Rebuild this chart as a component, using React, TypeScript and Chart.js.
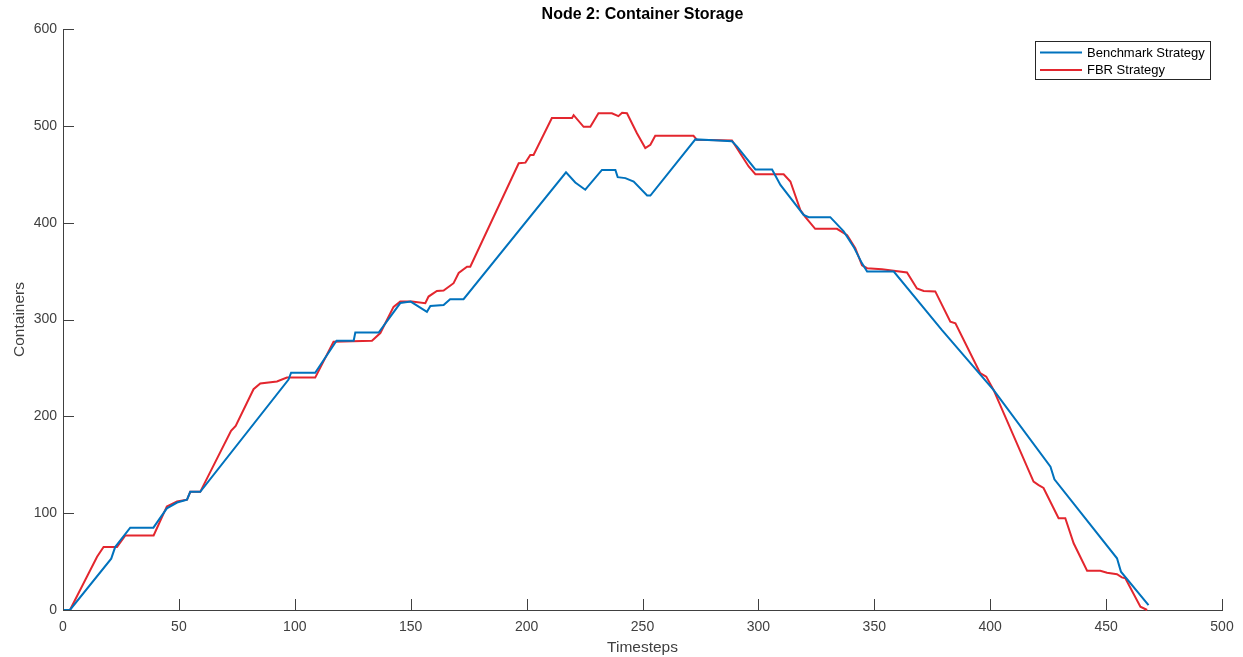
import React, { useEffect, useRef } from "react";
import { Chart, registerables } from "chart.js";

Chart.register(...registerables);

const TITLE = "Node 2: Container Storage";
const X_LABEL = "Timesteps";
const Y_LABEL = "Containers";

const benchmarkLabel = "Benchmark Strategy";
const fbrLabel = "FBR Strategy";

const benchmarkX = [0, 3, 20.8, 22.5, 29, 39, 44.8, 49.2, 53.5, 54.9, 59.2, 97.3, 98.4, 108.8, 118, 125.4, 126.1, 136.2, 145.5, 150, 157, 158.5, 164.2, 167, 172.8, 217, 221, 225.3, 232.5, 238.3, 239.3, 242.6, 246.2, 252, 253.4, 272.8, 280.7, 288.6, 290.8, 298.7, 305.9, 309.5, 319.5, 321.7, 331, 336.8, 341.1, 344.7, 346.9, 358.4, 379.2, 401.5, 426, 427.7, 454.7, 456.4, 468.3];
const benchmarkY = [0, 0, 53, 65, 85, 85, 105, 111, 114, 122, 122, 238, 245, 245, 278, 278, 286.5, 286.5, 317, 318.5, 308, 314, 315, 321, 321, 452, 441.5, 434, 454.5, 454.5, 447, 446, 442.5, 428, 428, 486, 485, 484, 478.6, 455, 455, 439, 408, 405.7, 405.7, 391, 375, 358, 349.5, 349.5, 289, 227, 148, 135, 53.4, 39.6, 5];

const fbrX = [0, 3, 14.7, 17.5, 23.3, 26.9, 39.1, 44.8, 49.2, 53.5, 54.9, 59.2, 72.5, 74.5, 82.2, 85.1, 92.3, 96.6, 108.8, 116.7, 133.3, 136.9, 142.6, 145.5, 150.5, 156.3, 157.7, 161.3, 164.2, 168.5, 170.7, 174.3, 175.7, 196.6, 199.5, 201.6, 203, 210.9, 219.6, 220.3, 224.6, 227.5, 231, 236.8, 239.6, 241.2, 243.3, 247.6, 251.2, 253.4, 255.5, 272, 273.5, 288.6, 295.8, 298.7, 310.9, 313.8, 318.1, 320.2, 324.5, 333.9, 338.3, 341.8, 344.7, 346.9, 353.3, 364.1, 368.4, 371.3, 376.3, 382.8, 385, 395.7, 398.3, 401.5, 418.7, 420.9, 423, 429.5, 432.4, 436, 441.8, 447.5, 450.4, 454.7, 456.8, 458.3, 464.8, 467.7];
const fbrY = [0, 0, 55, 65, 65, 77, 77, 107, 112, 114, 122, 122, 185, 190, 228, 234, 236, 240, 240, 277, 278, 286, 313, 318.5, 318.5, 316.8, 323.7, 329.5, 330, 337.5, 348, 354.6, 354.6, 461.4, 462, 470, 470, 508, 508, 511, 499, 499, 513, 513, 510, 513.5, 513, 492.4, 477, 480.5, 489.7, 489.7, 485.5, 484.8, 458, 450, 450, 442.5, 413, 406, 393.6, 393.6, 387, 373.6, 356, 353, 352, 348.5, 332, 329.5, 329, 297.8, 296, 244.5, 241, 227, 132.5, 129, 126, 94.7, 94.7, 68.9, 40.6, 40.6, 38.5, 37, 33.7, 32.7, 3.4, 0];

const xTicks = [0, 50, 100, 150, 200, 250, 300, 350, 400, 450, 500];
const yTicks = [0, 100, 200, 300, 400, 500, 600];

const BLUE = "#0072BD";
const RED = "#E3262E";
const AXIS = "#404040";
const FONT = "'Liberation Sans', Arial, Helvetica, sans-serif";

const toPoints = (xs: number[], ys: number[]) => xs.map((x, i) => ({ x, y: ys[i] }));

const inwardTicks = {
  id: "inwardTicks",
  afterDatasetsDraw(chart: any) {
    const { ctx, chartArea, scales } = chart;
    const len = 11;
    ctx.save();
    ctx.strokeStyle = AXIS;
    ctx.lineWidth = 1;
    ctx.beginPath();
    for (const v of xTicks) {
      const px = Math.round(scales.x.getPixelForValue(v)) + 0.5;
      ctx.moveTo(px, chartArea.bottom);
      ctx.lineTo(px, chartArea.bottom - len);
    }
    for (const v of yTicks) {
      const py = Math.round(scales.y.getPixelForValue(v)) + 0.5;
      ctx.moveTo(chartArea.left, py);
      ctx.lineTo(chartArea.left + len, py);
    }
    ctx.stroke();
    ctx.restore();
  },
};

const boxLegend = {
  id: "boxLegend",
  afterDraw(chart: any) {
    const { ctx } = chart;
    const x0 = 1035.5, y0 = 41.5, w = 175, h = 38;
    ctx.save();
    ctx.fillStyle = "#ffffff";
    ctx.fillRect(x0, y0, w, h);
    ctx.strokeStyle = "#262626";
    ctx.lineWidth = 1;
    ctx.strokeRect(x0, y0, w, h);
    ctx.font = `13px ${FONT}`;
    ctx.textBaseline = "middle";
    ctx.textAlign = "left";
    const rows = [52.5, 70];
    chart.data.datasets.forEach((ds: any, i: number) => {
      const y = rows[i];
      ctx.strokeStyle = ds.borderColor;
      ctx.lineWidth = ds.borderWidth;
      ctx.beginPath();
      ctx.moveTo(1040, y);
      ctx.lineTo(1082, y);
      ctx.stroke();
      ctx.fillStyle = "#000000";
      ctx.fillText(ds.label, 1087, y + 0.5);
    });
    ctx.restore();
  },
};

export default function App() {
  const ref = useRef<HTMLCanvasElement | null>(null);

  useEffect(() => {
    if (!ref.current) return;
    const chart = new Chart(ref.current, {
      type: "line",
      data: {
        datasets: [
          {
            label: benchmarkLabel,
            data: toPoints(benchmarkX, benchmarkY),
            borderColor: BLUE,
            backgroundColor: BLUE,
            borderWidth: 2,
            pointRadius: 0,
            tension: 0,
            fill: false,
            clip: false as any,
          },
          {
            label: fbrLabel,
            data: toPoints(fbrX, fbrY),
            borderColor: RED,
            backgroundColor: RED,
            borderWidth: 2,
            pointRadius: 0,
            tension: 0,
            fill: false,
            clip: false as any,
          },
        ],
      },
      options: {
        responsive: false,
        animation: false,
        events: [],
        layout: { padding: { top: 0, right: 21, left: 0, bottom: 0 } },
        plugins: {
          legend: { display: false },
          tooltip: { enabled: false },
          title: {
            display: true,
            text: TITLE,
            fullSize: false,
            color: "#000000",
            font: { family: FONT, size: 16, weight: "bold" },
            padding: { top: 5, bottom: 4.8 },
          },
        },
        scales: {
          x: {
            type: "linear",
            min: 0,
            max: 500,
            afterFit: (s: any) => { s.height = 47; },
            afterBuildTicks: (s: any) => { s.ticks = xTicks.map((v) => ({ value: v })); },
            grid: { display: false, drawTicks: false },
            border: { display: true, color: AXIS, width: 1 },
            ticks: {
              color: AXIS,
              padding: 9,
              maxRotation: 0,
              autoSkip: false,
              font: { family: FONT, size: 14 },
            },
            title: {
              display: true,
              text: X_LABEL,
              color: AXIS,
              font: { family: FONT, size: 15.5 },
              padding: { top: 0, bottom: 0 },
            },
          },
          y: {
            type: "linear",
            min: 0,
            max: 600,
            afterFit: (s: any) => { s.width = 63; },
            afterBuildTicks: (s: any) => { s.ticks = yTicks.map((v) => ({ value: v })); },
            grid: { display: false, drawTicks: false },
            border: { display: true, color: AXIS, width: 1 },
            ticks: {
              color: AXIS,
              padding: 6,
              autoSkip: false,
              font: { family: FONT, size: 14 },
            },
            title: {
              display: true,
              text: Y_LABEL,
              color: AXIS,
              font: { family: FONT, size: 15.5 },
              padding: { top: 10, bottom: 0 },
            },
          },
        },
      },
      plugins: [inwardTicks, boxLegend],
    });
    return () => chart.destroy();
  }, []);

  return (
    <div style={{ position: "fixed", left: 0, top: 0, width: 1243, height: 657, background: "#ffffff" }}>
      <canvas ref={ref} width={1243} height={657} style={{ width: 1243, height: 657, display: "block" }} />
    </div>
  );
}
